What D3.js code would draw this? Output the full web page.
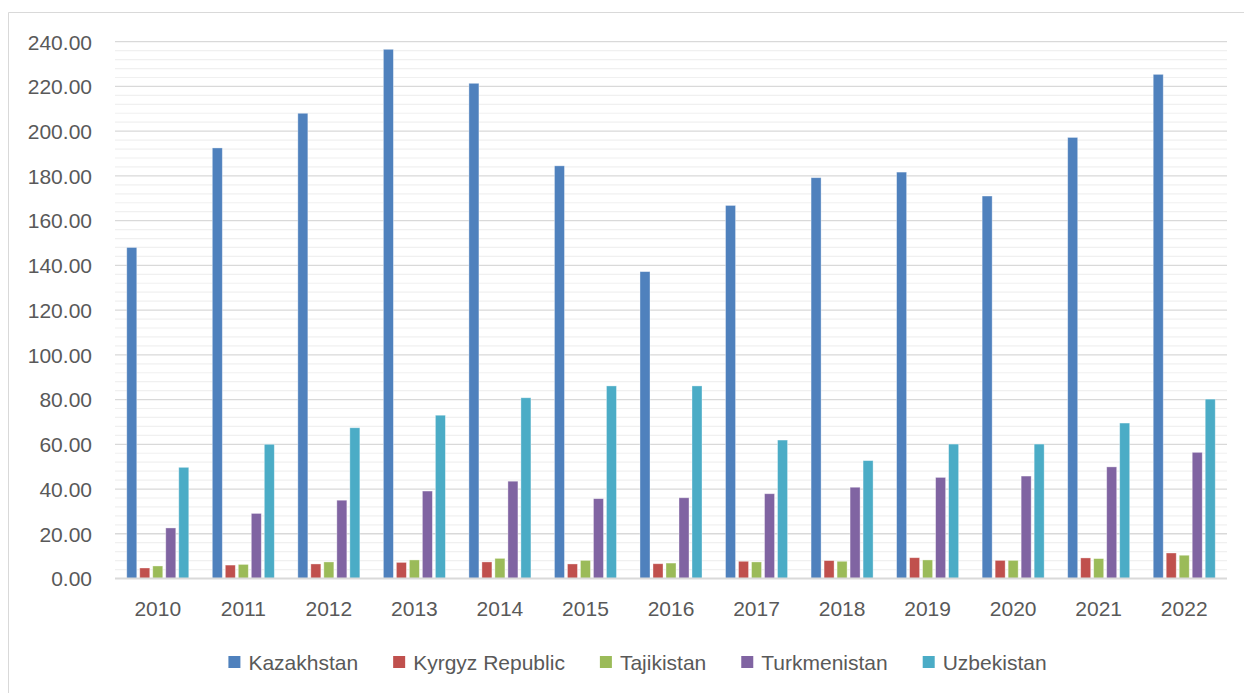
<!DOCTYPE html>
<html>
<head>
<meta charset="utf-8">
<script src="https://cdn.jsdelivr.net/npm/d3@7"></script>
<style>
  html, body { margin: 0; padding: 0; background: #fff; }
  svg { display: block; font-family: "Liberation Sans", Arial, sans-serif; }
</style>
</head>
<body>
<svg id="chart" width="1244" height="693"></svg>
<script>
const years = ["2010","2011","2012","2013","2014","2015","2016","2017","2018","2019","2020","2021","2022"];
const seriesNames = ["Kazakhstan","Kyrgyz Republic","Tajikistan","Turkmenistan","Uzbekistan"];
const kazakhstan   = [148.0, 192.5, 208.0, 236.6, 221.4, 184.5, 137.2, 166.8, 179.2, 181.7, 171.0, 197.2, 225.4];
const kyrgyz       = [4.7, 6.0, 6.5, 7.2, 7.4, 6.5, 6.6, 7.7, 8.0, 9.3, 8.1, 9.2, 11.4];
const tajikistan   = [5.6, 6.3, 7.4, 8.3, 9.0, 8.1, 6.9, 7.4, 7.7, 8.3, 8.1, 8.9, 10.4];
const turkmenistan = [22.6, 29.1, 35.0, 39.1, 43.5, 35.7, 36.1, 37.9, 40.8, 45.2, 45.8, 49.9, 56.4];
const uzbekistan   = [49.7, 60.0, 67.4, 73.0, 80.8, 86.1, 86.1, 61.9, 52.7, 60.1, 60.1, 69.5, 80.2];
const yTicks = [0, 20, 40, 60, 80, 100, 120, 140, 160, 180, 200, 220, 240];
const colors = ["#4F81BD", "#C0504D", "#9BBB59", "#8064A2", "#4BACC6"];

const seriesValues = [kazakhstan, kyrgyz, tajikistan, turkmenistan, uzbekistan];

const svg = d3.select("#chart");
const textColor = "#595959";

// outer frame (top and left visible)
svg.append("line").attr("x1", 8.5).attr("x2", 1244).attr("y1", 12.5).attr("y2", 12.5)
  .attr("stroke", "#d9d9d9").attr("stroke-width", 1);
svg.append("line").attr("x1", 8.5).attr("x2", 8.5).attr("y1", 12.5).attr("y2", 693)
  .attr("stroke", "#d9d9d9").attr("stroke-width", 1);

const x0 = 115, x1 = 1227;
const y = d3.scaleLinear().domain([0, 240]).range([578.5, 41.7]);
const xBand = d3.scaleBand().domain(years).range([x0, x1]).paddingInner(0).paddingOuter(0);
const bw = xBand.bandwidth();
const groupW = bw * 0.725;
const xSeries = d3.scaleBand().domain(seriesNames)
  .range([(bw - groupW) / 2, (bw + groupW) / 2]).paddingInner(0.23).paddingOuter(0);

// minor gridlines
const minor = d3.range(0, 241, 4).filter(v => v % 20 !== 0);
svg.append("g").selectAll("line").data(minor).join("line")
  .attr("x1", x0).attr("x2", x1)
  .attr("y1", d => y(d)).attr("y2", d => y(d))
  .attr("stroke", "#f0f0f0").attr("stroke-width", 1.2);

// major gridlines
svg.append("g").selectAll("line").data(yTicks.filter(v => v > 0)).join("line")
  .attr("x1", x0).attr("x2", x1)
  .attr("y1", d => y(d)).attr("y2", d => y(d))
  .attr("stroke", "#d9d9d9").attr("stroke-width", 1.3);

// bars
const groups = svg.append("g").selectAll("g").data(years).join("g")
  .attr("transform", d => `translate(${xBand(d)},0)`);
groups.selectAll("rect")
  .data((yr, i) => seriesNames.map((s, k) => ({ s, k, v: seriesValues[k][i] })))
  .join("rect")
  .attr("x", d => xSeries(d.s))
  .attr("width", xSeries.bandwidth())
  .attr("y", d => y(d.v))
  .attr("height", d => y(0) - y(d.v))
  .attr("fill", d => colors[d.k])
  .attr("stroke", "rgba(255,255,255,0.45)")
  .attr("stroke-width", 0.8);

// baseline axis
svg.append("line").attr("x1", x0).attr("x2", x1)
  .attr("y1", y(0)).attr("y2", y(0))
  .attr("stroke", "#d9d9d9").attr("stroke-width", 2);

// y axis labels
const yAxis = d3.axisLeft(y).tickValues(yTicks).tickFormat(d3.format(".2f")).tickSize(0).tickPadding(0);
const gy = svg.append("g").attr("transform", "translate(92,0)").call(yAxis);
gy.select(".domain").remove();
gy.selectAll("text").attr("fill", textColor).style("font-size", "21px")
  .style("font-family", "'Liberation Sans', Arial, sans-serif").attr("dy", "0.35em");

// x axis labels
const xAxis = d3.axisBottom(xBand).tickSize(0).tickPadding(0);
const gx = svg.append("g").attr("transform", "translate(0,600)").call(xAxis);
gx.select(".domain").remove();
gx.selectAll("text").attr("fill", textColor).style("font-size", "21px")
  .style("font-family", "'Liberation Sans', Arial, sans-serif").attr("dy", "0.76em");

// legend
const leg = svg.append("g");
const items = leg.selectAll("g").data(seriesNames).join("g");
items.append("rect").attr("width", 12).attr("height", 12).attr("y", -6)
  .attr("fill", (d, i) => colors[i]);
items.append("text").attr("x", 20).attr("dy", "0.36em").text(d => d)
  .attr("fill", textColor).style("font-size", "21px");
let cx = 0;
const gap = 35;
const offsets = [];
items.each(function () {
  offsets.push(cx);
  const w = 20 + this.querySelector("text").getComputedTextLength();
  cx += w + gap;
});
const total = cx - gap;
const startX = 637.5 - total / 2;
items.attr("transform", (d, i) => `translate(${startX + offsets[i]},662)`);
</script>
</body>
</html>
